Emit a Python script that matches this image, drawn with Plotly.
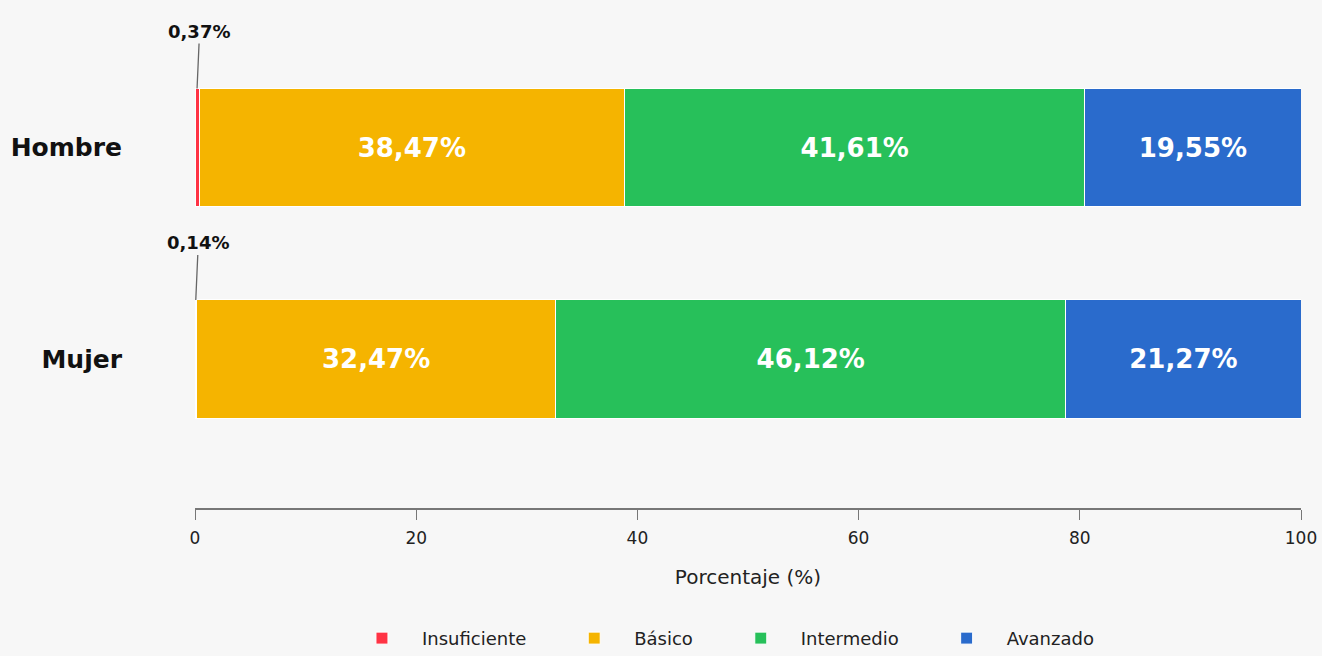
import plotly.graph_objects as go

categories = ["Mujer", "Hombre"]
levels = ["Insuficiente", "Básico", "Intermedio", "Avanzado"]
insuficiente = [0.14, 0.37]
basico = [32.47, 38.47]
intermedio = [46.12, 41.61]
avanzado = [21.27, 19.55]
series = [insuficiente, basico, intermedio, avanzado]
colors = ["#ff3344", "#f5b400", "#27c05a", "#2a6bcc"]
x_ticks = [0, 20, 40, 60, 80, 100]

def fmt(v):
    return f"{v:.2f}".replace(".", ",") + "%"

fig = go.Figure()
for name, vals, col in zip(levels, series, colors):
    fig.add_trace(go.Bar(
        y=categories, x=vals, name=name + "\u00a0" * 4, orientation="h",
        marker=dict(color=col, line=dict(color="white", width=1)),
        width=0.56,
        text=[fmt(v) if v > 5 else "" for v in vals],
        textposition="inside", insidetextanchor="middle",
        textfont=dict(color="white", size=26, family="DejaVu Sans", weight="bold"),
        hoverinfo="skip",
    ))

for cat, v in zip(categories, insuficiente):
    fig.add_annotation(
        x=v / 2, y=cat, yshift=59, text="<b>" + fmt(v) + "</b>",
        showarrow=True, arrowhead=0, arrowcolor="#666666", arrowwidth=1.3,
        ax=2, ay=-45, xanchor="center", yanchor="bottom",
        font=dict(size=18, color="#111111", family="DejaVu Sans"),
    )

fig.update_layout(
    barmode="stack",
    width=1322, height=656,
    paper_bgcolor="#f7f7f7", plot_bgcolor="#f7f7f7",
    margin=dict(l=195, r=21, t=20, b=148, autoexpand=False),
    font=dict(family="DejaVu Sans", color="#222222"),
    showlegend=True,
    legend=dict(orientation="h", x=0.4855, xanchor="center",
                yref="container", y=0.055, yanchor="top",
                font=dict(size=18, color="#222222"), traceorder="normal",
                itemwidth=70),
    bargap=0.4,
)
fig.update_xaxes(
    range=[0, 100], tickvals=x_ticks, showgrid=False, zeroline=False,
    showline=True, linecolor="#777777", linewidth=1.5,
    ticks="outside", ticklen=10, tickcolor="#777777",
    tickfont=dict(size=17, color="#222222"), ticklabelstandoff=4,
    title=dict(text="Porcentaje (%)", font=dict(size=20, color="#222222"), standoff=23),
)
fig.update_yaxes(
    range=[-0.704, 1.603], showgrid=False, zeroline=False, showline=False,
    ticks="", ticklabelstandoff=72,
    tickfont=dict(size=25, color="#111111", family="DejaVu Sans", weight="bold"),
)
fig.write_html("out.html", config={"displayModeBar": False})

with open("out.html", encoding="utf-8") as f:
    html = f.read()
html = html.replace("<head>", "<head><style>html,body{margin:0;padding:0;overflow:hidden;background:#f7f7f7;}</style>", 1)
with open("out.html", "w", encoding="utf-8") as f:
    f.write(html)
